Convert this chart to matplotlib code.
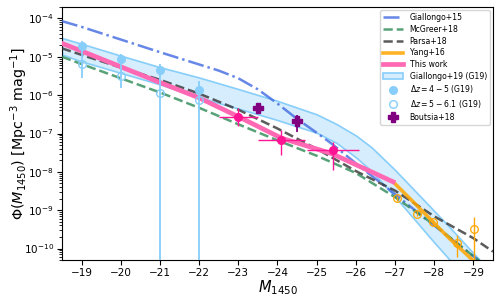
import numpy as np
import matplotlib
matplotlib.use("Agg")
import matplotlib.pyplot as plt
from matplotlib.colors import to_rgba
from matplotlib.ticker import MultipleLocator, LogLocator, NullFormatter

# all luminosity functions as log10 Phi [Mpc^-3 mag^-1]
m_g15 = [-18.5, -19, -20, -21, -22, -22.5, -23, -23.5, -24, -24.5, -25, -25.4, -26.1, -26.8, -27.8, -28.5, -29.5]
lf_g15 = [-4.07, -4.22, -4.55, -4.88, -5.20, -5.36, -5.56, -5.85, -6.22, -6.62, -6.98, -7.28, -7.86, -8.42, -9.24, -9.80, -10.60]

m_mcg = [-18.5, -19, -20, -21, -22, -23, -24, -25, -26, -27, -28, -29, -29.5]
lf_mcg = [-5.00, -5.19, -5.56, -5.93, -6.33, -6.76, -7.18, -7.58, -8.03, -8.66, -9.38, -10.20, -10.62]

m_par = [-18.5, -19, -20, -21, -22, -23, -24, -25, -26, -27, -28, -29, -29.5]
lf_par = [-4.78, -4.95, -5.28, -5.60, -5.96, -6.38, -6.87, -7.40, -7.98, -8.49, -9.16, -9.73, -10.08]

m_y16 = [-26.95, -27.5, -28.35, -29.0]
lf_y16 = [-8.26, -8.82, -9.70, -10.32]

m_tw = [-18.5, -19, -20, -21, -22, -23, -24.1, -25.4, -26.95]
lf_tw = [-4.65, -4.85, -5.26, -5.67, -6.07, -6.56, -7.12, -7.53, -8.26]

# Giallongo+19 band
m_band = [-18.5, -19, -20, -21, -22, -23, -24, -25, -25.5, -26, -26.4, -27, -28, -28.4, -29, -29.3]
band_hi = [-4.51, -4.66, -4.97, -5.27, -5.54, -5.84, -6.15, -6.50, -6.75, -7.05, -7.36, -7.95, -9.02, -9.45, -10.12, -10.45]
band_lo = [-4.94, -5.12, -5.42, -5.72, -6.06, -6.35, -6.65, -6.98, -7.24, -7.62, -7.98, -8.65, -9.84, -10.30, -11.0, -11.3]

# G19 binned points
m_g19 = [-19, -20, -21, -22]
lf_g19a = [-4.72, -5.07, -5.35, -5.87]
lf_g19a_hi = [-4.59, -4.94, -5.19, -5.62]
lf_g19a_lo = [-5.55, -5.81, -12.0, -12.0]
lf_g19b = [-5.20, -5.51, -5.95, -6.12]

# this work binned points
m_pts = [-23.0, -24.09, -25.42]
m_pts_err = [0.5, 0.6, 0.66]
lf_pts = [-6.56, -7.17, -7.43]
lf_pts_hi = [-6.34, -6.91, -7.21]
lf_pts_lo = [-6.80, -7.55, -7.95]

# Boutsia+18
m_b18 = [-23.5, -24.5]
lf_b18 = [-6.33, -6.68]
lf_b18_hi = [-6.20, -6.51]
lf_b18_lo = [-6.46, -6.95]

# Yang+16 binned points
m_y16p = [-27.05, -27.56, -27.98, -28.57, -29.02]
lf_y16p = [-8.69, -9.09, -9.32, -9.85, -9.48]
lf_y16p_hi = [-8.62, -9.02, -9.25, -9.65, -9.17]
lf_y16p_lo = [-8.76, -9.16, -9.39, -10.22, -12.0]


def lin(a):
    return 10 ** np.asarray(a, dtype=float)


def yerr(c, hi, lo):
    c, hi, lo = lin(c), lin(hi), lin(lo)
    return [c - lo, hi - c]


fig = plt.figure(figsize=(5, 3), dpi=100)
ax = fig.add_axes([0.124, 0.133, 0.862, 0.844])

band = ax.fill_between(m_band, lin(band_lo), lin(band_hi),
                       facecolor=to_rgba("lightskyblue", 0.35),
                       edgecolor="lightskyblue", linewidth=1.2, zorder=1,
                       label="Giallongo+19 (G19)")

l_g15, = ax.plot(m_g15, lin(lf_g15), ls="-.", color="royalblue", alpha=0.8, lw=1.8, zorder=3, label="Giallongo+15")
l_mcg, = ax.plot(m_mcg, lin(lf_mcg), ls="--", color="seagreen", alpha=0.8, lw=1.8, zorder=3, label="McGreer+18")
l_par, = ax.plot(m_par, lin(lf_par), ls="--", color="#333333", alpha=0.8, lw=1.8, zorder=3, label="Parsa+18")
l_y16, = ax.plot(m_y16, lin(lf_y16), color="orange", alpha=0.85, lw=2.6, zorder=4, label="Yang+16")
l_tw, = ax.plot(m_tw, lin(lf_tw), color="hotpink", lw=3.4, zorder=4, label="This work")

# G19 points
ax.errorbar(m_g19, lin(lf_g19a), yerr=yerr(lf_g19a, lf_g19a_hi, lf_g19a_lo),
            fmt="none", ecolor="lightskyblue", elinewidth=1.3, zorder=5)
p_a, = ax.plot(m_g19, lin(lf_g19a), "o", color="lightskyblue", ms=5.5, ls="none", zorder=6,
               label=r"$\Delta z = 4-5$ (G19)")
p_b, = ax.plot(m_g19, lin(lf_g19b), "o", mfc="none", mec="lightskyblue", mew=1.0, ms=5.5, ls="none", zorder=6,
               label=r"$\Delta z = 5-6.1$ (G19)")

# Yang+16 points
ax.errorbar(m_y16p, lin(lf_y16p), yerr=yerr(lf_y16p, lf_y16p_hi, lf_y16p_lo),
            fmt="o", mfc="none", mec="orange", ecolor="orange", ms=5.5, mew=0.9, elinewidth=1.0, zorder=6)

# this work points
ax.errorbar(m_pts, lin(lf_pts), xerr=m_pts_err, yerr=yerr(lf_pts, lf_pts_hi, lf_pts_lo),
            fmt="o", color="deeppink", ms=5.5, elinewidth=1.0, zorder=7)

# Boutsia+18
ax.errorbar(m_b18, lin(lf_b18), yerr=yerr(lf_b18, lf_b18_hi, lf_b18_lo),
            fmt="none", ecolor="purple", elinewidth=1.3, zorder=7)
p_b18, = ax.plot(m_b18, lin(lf_b18), "P", color="purple", ms=6.5, ls="none", zorder=8, label="Boutsia+18")

ax.set_yscale("log")
ax.set_xlim(-18.5, -29.5)
ax.set_ylim(5e-11, 2e-4)
ax.xaxis.set_major_locator(MultipleLocator(1))
ax.yaxis.set_major_locator(LogLocator(base=10, numticks=20))
ax.yaxis.set_minor_locator(LogLocator(base=10, subs=np.arange(2, 10), numticks=20))
ax.yaxis.set_minor_formatter(NullFormatter())
ax.tick_params(labelsize=7.5, pad=2.5)

ax.set_xlabel(r"$M_{1450}$", fontsize=10.5)
ax.set_ylabel(r"$\Phi(M_{1450})$ [Mpc$^{-3}$ mag$^{-1}$]", fontsize=10.3)
ax.xaxis.set_label_coords(0.5, -0.072)
ax.yaxis.set_label_coords(-0.074, 0.5)

handles = [l_g15, l_mcg, l_par, l_y16, l_tw, band, p_a, p_b, p_b18]
ax.legend(handles=handles, loc="upper right", fontsize=5.6, handlelength=2.6,
          labelspacing=0.35, borderaxespad=0.4)

fig.savefig("out.png", dpi=100)
